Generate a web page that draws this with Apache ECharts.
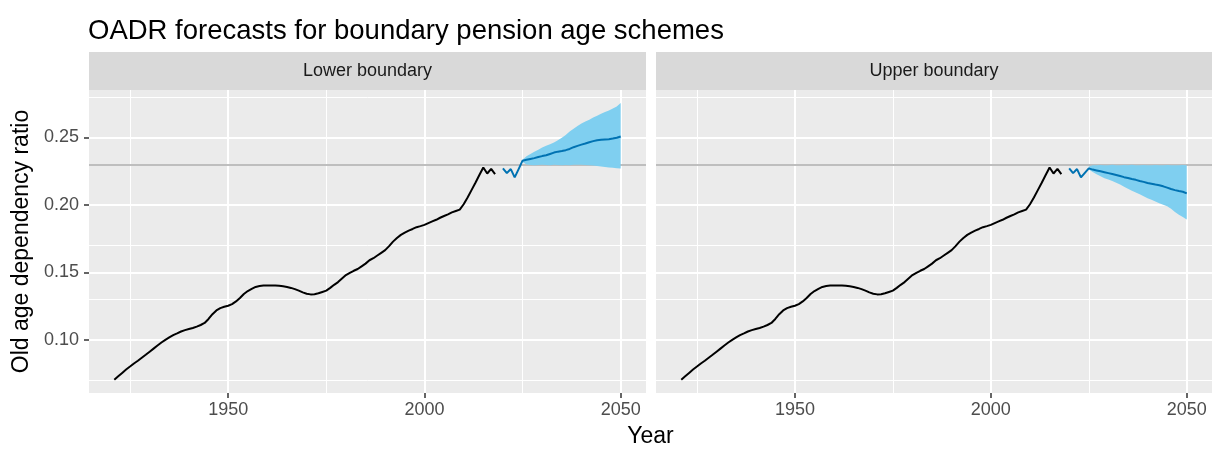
<!DOCTYPE html>
<html>
<head>
<meta charset="utf-8">
<script src="https://cdn.jsdelivr.net/npm/echarts@6/dist/echarts.min.js"></script>
<style>
  html, body { margin: 0; padding: 0; background: #fff; }
  #main { width: 1214px; height: 449px; }
</style>
</head>
<body>
<div id="main"></div>
<script>
// observed OADR, one value per year starting at histStart
var histStart = 1921;
var histValues = [
  0.0705, 0.0730, 0.0755, 0.0780, 0.0802, 0.0825, 0.0845, 0.0867, 0.0889, 0.0912,
  0.0935, 0.0958, 0.0980, 0.1000, 0.1018, 0.1035, 0.1048, 0.1062, 0.1072, 0.1080,
  0.1088, 0.1098, 0.1110, 0.1125, 0.1155, 0.1190, 0.1218, 0.1235, 0.1245, 0.1253,
  0.1265, 0.1285, 0.1310, 0.1340, 0.1362, 0.1378, 0.1392, 0.1399, 0.1402, 0.1403,
  0.1403, 0.1403, 0.1401, 0.1397, 0.1392, 0.1385, 0.1376, 0.1365, 0.1352, 0.1342,
  0.1337, 0.1338, 0.1345, 0.1355, 0.1365, 0.1385, 0.1408, 0.1428, 0.1455, 0.1480,
  0.1497, 0.1512, 0.1525, 0.1545, 0.1565, 0.1590, 0.1605, 0.1625, 0.1645, 0.1665,
  0.1695, 0.1728, 0.1755, 0.1778, 0.1795, 0.1810, 0.1822, 0.1835, 0.1843, 0.1852,
  0.1865, 0.1878, 0.1890, 0.1905, 0.1918, 0.1930, 0.1945, 0.1955, 0.1965, 0.2005,
  0.2055, 0.2110, 0.2165, 0.2222, 0.2278, 0.2233, 0.2267, 0.2228
];

// forecast means, one value per year starting at fcStart
var fcStart = 2020;
var lowerMean = [
  0.2271, 0.2236, 0.2266, 0.2204, 0.2266, 0.2328, 0.2335, 0.2341, 0.2347, 0.2355,
  0.2362, 0.2368, 0.2378, 0.2388, 0.2395, 0.2400, 0.2406, 0.2415, 0.2428, 0.2438,
  0.2447, 0.2455, 0.2465, 0.2473, 0.2480, 0.2483, 0.2485, 0.2487, 0.2492, 0.2498,
  0.2507
];
var upperMean = [
  0.2271, 0.2236, 0.2266, 0.2204, 0.2238, 0.2271, 0.2262, 0.2256, 0.2250, 0.2243,
  0.2236, 0.2229, 0.2222, 0.2214, 0.2206, 0.2200, 0.2192, 0.2186, 0.2178, 0.2171,
  0.2163, 0.2157, 0.2151, 0.2146, 0.2138, 0.2128, 0.2118, 0.2110, 0.2103, 0.2098,
  0.2086
];

// prediction intervals, starting at bandStart
var bandStart = 2025;
var lowerBandLo = [
  0.2318, 0.2300, 0.2296, 0.2294, 0.2296, 0.2297, 0.2296, 0.2295, 0.2297, 0.2296,
  0.2294, 0.2296, 0.2295, 0.2297, 0.2298, 0.2298, 0.2296, 0.2294, 0.2292, 0.2288,
  0.2285, 0.2281, 0.2278, 0.2275, 0.2272, 0.2270
];
var lowerBandHi = [
  0.2335, 0.2360, 0.2378, 0.2394, 0.2410, 0.2425, 0.2438, 0.2450, 0.2463, 0.2480,
  0.2498, 0.2518, 0.2545, 0.2565, 0.2585, 0.2603, 0.2618, 0.2632, 0.2648, 0.2662,
  0.2676, 0.2688, 0.2700, 0.2715, 0.2730, 0.2755
];
var upperBandLo = [
  0.2262, 0.2245, 0.2228, 0.2212, 0.2198, 0.2188, 0.2178, 0.2165, 0.2152, 0.2135,
  0.2120, 0.2105, 0.2092, 0.2080, 0.2065, 0.2050, 0.2038, 0.2025, 0.2012, 0.2002,
  0.1990, 0.1972, 0.1948, 0.1928, 0.1910, 0.1893
];
var upperBandHi = [
  0.2285, 0.2294, 0.2295, 0.2296, 0.2294, 0.2295, 0.2297, 0.2295, 0.2294, 0.2296,
  0.2295, 0.2297, 0.2295, 0.2294, 0.2296, 0.2295, 0.2294, 0.2296, 0.2295, 0.2294,
  0.2296, 0.2295, 0.2294, 0.2295, 0.2296, 0.2295
];

var panels = ["Lower boundary", "Upper boundary"];
var xTicks = [1950, 2000, 2050];
var xMinor = [1925, 1975, 2025];
var yTicks = [0.10, 0.15, 0.20, 0.25];
var yMinor = [0.075, 0.125, 0.175, 0.225, 0.275];
var threshold = 0.23;

var font = "Liberation Sans, Arial, sans-serif";

function pairs(start, vals) {
  return vals.map(function (v, i) { return [start + i, v]; });
}
function bandRows(start, lo, hi) {
  return lo.map(function (v, i) { return [start + i, v, hi[i]]; });
}

// whole band drawn once as a polygon through the axis scales
function renderBand(params, api) {
  if (params.dataIndex !== 0) return;
  var rows = bandData[params.seriesIndex];
  var top = [], bottom = [];
  rows.forEach(function (r) {
    top.push(api.coord([r[0], r[2]]));
    bottom.push(api.coord([r[0], r[1]]));
  });
  return {
    type: "polygon",
    shape: { points: top.concat(bottom.reverse()) },
    style: { fill: "#7fcff0" },
    silent: true
  };
}

var grids = [
  { left: 89, top: 90, width: 557, height: 303 },
  { left: 656, top: 90, width: 556, height: 303 }
];

var xAxes = [], yAxes = [], series = [], graphics = [];
var bandData = {};
var means = [lowerMean, upperMean];
var bandLo = [lowerBandLo, upperBandLo];
var bandHi = [lowerBandHi, upperBandHi];

grids.forEach(function (g, k) {
  g.show = true;
  g.backgroundColor = "#ebebeb";
  g.borderWidth = 0;

  xAxes.push({
    type: "value", gridIndex: k, min: 1914.55, max: 2056.45,
    axisLine: { show: false },
    splitLine: { show: false },
    axisTick: { show: true, customValues: xTicks, length: 5, lineStyle: { color: "#333", width: 1.5 } },
    axisLabel: {
      customValues: xTicks, color: "#4d4d4d", fontSize: 18, fontFamily: font, margin: 8,
      formatter: function (v) { return String(v); }
    }
  });
  yAxes.push({
    type: "value", gridIndex: k, min: 0.0606, max: 0.2852,
    axisLine: { show: false },
    splitLine: { show: false },
    axisTick: { show: k === 0, customValues: yTicks, length: 5, lineStyle: { color: "#333", width: 1.5 } },
    axisLabel: {
      show: k === 0, customValues: yTicks, color: "#4d4d4d", fontSize: 18, fontFamily: font, margin: 10,
      formatter: function (v) { return v.toFixed(2); }
    }
  });

  // gridlines + threshold line
  var lines = [];
  xMinor.forEach(function (v) { lines.push({ xAxis: v, lineStyle: { color: "#fff", width: 1, type: "solid" } }); });
  yMinor.forEach(function (v) { lines.push({ yAxis: v, lineStyle: { color: "#fff", width: 1, type: "solid" } }); });
  xTicks.forEach(function (v) { lines.push({ xAxis: v, lineStyle: { color: "#fff", width: 2, type: "solid" } }); });
  yTicks.forEach(function (v) { lines.push({ yAxis: v, lineStyle: { color: "#fff", width: 2, type: "solid" } }); });
  lines.push({ yAxis: threshold, lineStyle: { color: "#bebebe", width: 2, type: "solid" } });

  series.push({
    type: "line", xAxisIndex: k, yAxisIndex: k, z: 1, silent: true,
    data: pairs(histStart, histValues), symbol: "none",
    lineStyle: { opacity: 0 },
    markLine: {
      z: 1, silent: true, symbol: ["none", "none"], animation: false,
      label: { show: false }, emphasis: { disabled: true },
      lineStyle: { type: "solid" },
      data: lines
    }
  });

  // interval band
  bandData[series.length] = bandRows(bandStart, bandLo[k], bandHi[k]);
  series.push({
    type: "custom", xAxisIndex: k, yAxisIndex: k, z: 3, silent: true,
    data: bandData[series.length],
    encode: { x: 0, y: [1, 2] },
    clip: true,
    renderItem: renderBand
  });

  series.push({
    type: "line", xAxisIndex: k, yAxisIndex: k, z: 5, silent: true,
    data: pairs(histStart, histValues), symbol: "none",
    lineStyle: { color: "#000", width: 2 }
  });
  series.push({
    type: "line", xAxisIndex: k, yAxisIndex: k, z: 6, silent: true,
    data: pairs(fcStart, means[k]), symbol: "none",
    lineStyle: { color: "#0072b2", width: 2 }
  });

  // facet strip
  graphics.push({
    type: "rect", shape: { x: g.left, y: 52, width: g.width, height: 38 },
    style: { fill: "#d9d9d9" }, silent: true
  });
  graphics.push({
    type: "text", x: g.left + g.width / 2, y: 71, silent: true,
    style: { text: panels[k], fill: "#1a1a1a", font: "18px " + font, textAlign: "center", textVerticalAlign: "middle" }
  });
});

graphics.push({
  type: "text", x: 650.5, y: 437, silent: true,
  style: { text: "Year", fill: "#000", font: "23px " + font, textAlign: "center", textVerticalAlign: "middle" }
});
graphics.push({
  type: "text", x: 22, y: 241.5, rotation: Math.PI / 2, silent: true,
  style: { text: "Old age dependency ratio", fill: "#000", font: "23px " + font, textAlign: "center", textVerticalAlign: "middle" }
});

var option = {
  animation: false,
  backgroundColor: "#fff",
  title: {
    text: "OADR forecasts for boundary pension age schemes",
    left: 83, top: 12,
    textStyle: { color: "#000", fontSize: 27.5, fontWeight: "normal", fontFamily: font }
  },
  grid: grids,
  xAxis: xAxes,
  yAxis: yAxes,
  series: series,
  graphic: graphics
};

var chartDom = document.getElementById("main");
var myChart = echarts.init(chartDom);
myChart.setOption(option);
</script>
</body>
</html>
